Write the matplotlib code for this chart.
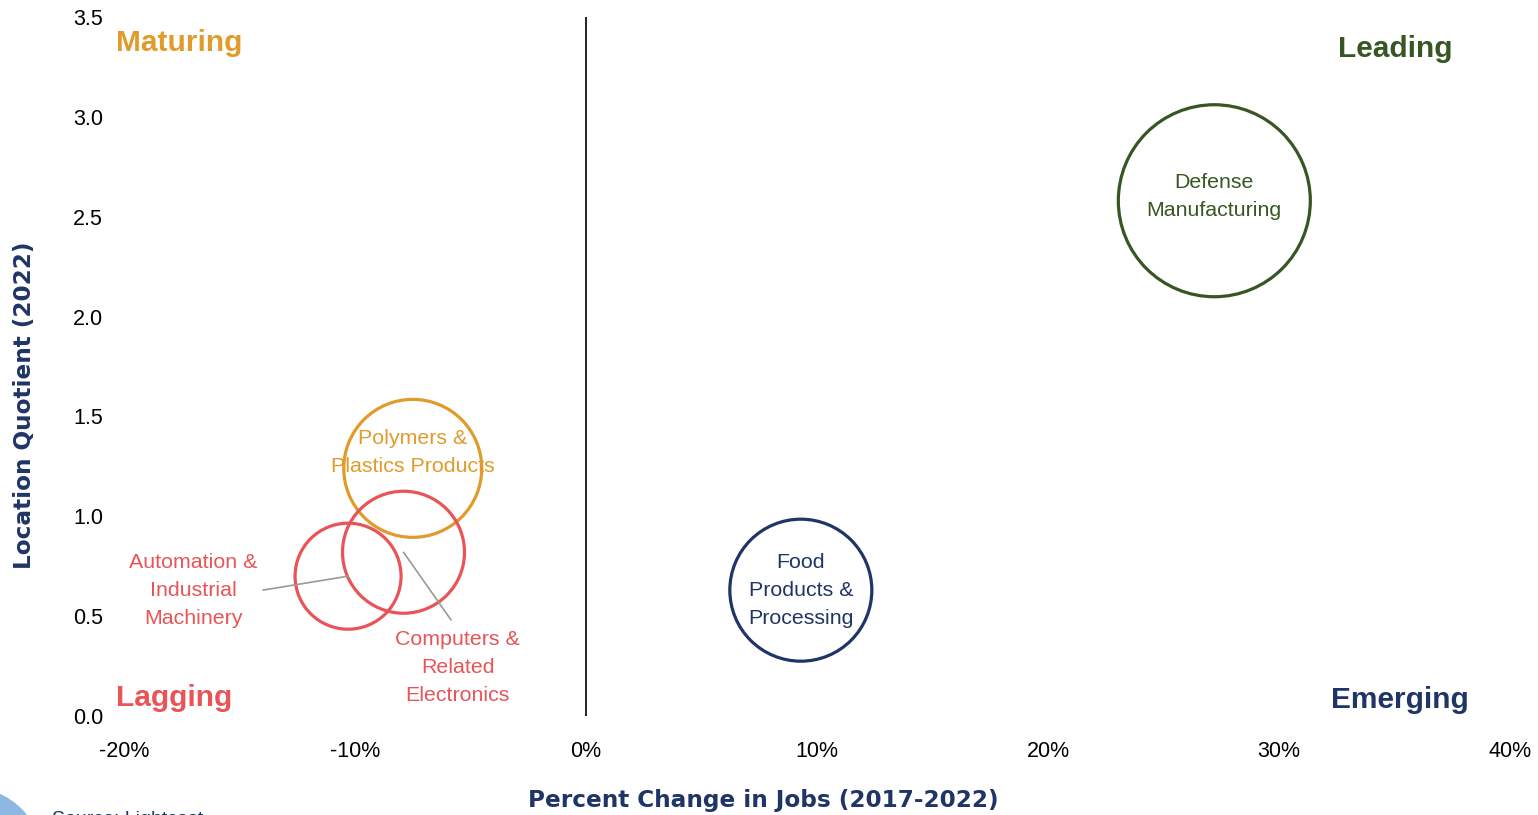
import matplotlib.pyplot as plt
from matplotlib.patches import Circle

# cluster data
clusters = ["Defense\nManufacturing", "Food\nProducts &\nProcessing", "Polymers &\nPlastics Products",
            "Computers &\nRelated\nElectronics", "Automation &\nIndustrial\nMachinery"]
pct_change = [27.2, 9.3, -7.5, -7.9, -10.3]
location_quotient = [2.58, 0.63, 1.24, 0.82, 0.70]
bubble_area = [36864, 20164, 19044, 14884, 11236]  # relative employment (px^2)
colors = ["#375623", "#1F3566", "#E09B2A", "#E85457", "#E85457"]

x_ticks = [-20, -10, 0, 10, 20, 30, 40]
y_ticks = [0.0, 0.5, 1.0, 1.5, 2.0, 2.5, 3.0, 3.5]

plt.rcParams['font.family'] = ['Liberation Sans', 'DejaVu Sans']

fig = plt.figure(figsize=(15.38, 8.15), dpi=100)
ax = fig.add_axes([124 / 1538, 1 - 716 / 815, (1510 - 124) / 1538, (716 - 17) / 815])

ax.scatter(pct_change, location_quotient, s=[a * 0.72 ** 2 for a in bubble_area],
           facecolors="none", edgecolors=colors, linewidths=2.3, zorder=3)

ax.set_xlim(-20, 40)
ax.set_ylim(0, 3.5)
ax.set_xticks(x_ticks)
ax.set_xticklabels([f"{v}%" for v in x_ticks])
ax.set_yticks(y_ticks)
ax.set_yticklabels([f"{v:.1f}" for v in y_ticks])
ax.tick_params(length=0, labelsize=15.5, colors="black")
ax.tick_params(axis="x", pad=18)
ax.tick_params(axis="y", pad=15)
for s in ax.spines.values():
    s.set_visible(False)
ax.axvline(0, color="black", lw=1.2, zorder=1)

lab = dict(fontsize=15.4, ha="center", va="center", linespacing=1.6)

# labels inside bubbles
ax.text(pct_change[0], location_quotient[0] + 0.02, clusters[0], color=colors[0], **lab)
ax.text(pct_change[1], location_quotient[1], clusters[1], color=colors[1], **lab)
ax.text(pct_change[2], location_quotient[2] + 0.08, clusters[2], color=colors[2], zorder=4, **lab)

# callouts
ax.annotate(clusters[3], xy=(pct_change[3], location_quotient[3]), xytext=(-5.55, 0.245),
            color=colors[3], **lab,
            arrowprops=dict(arrowstyle="-", color="#999999", lw=1.2, shrinkA=6, shrinkB=0,
                            relpos=(0.5, 1.0)))
ax.annotate(clusters[4], xy=(pct_change[4], location_quotient[4]), xytext=(-17.0, 0.626),
            color=colors[4], **lab,
            arrowprops=dict(arrowstyle="-", color="#999999", lw=1.2, shrinkA=2, shrinkB=0,
                            relpos=(1.0, 0.5)))

# quadrant labels
quad = dict(fontsize=21.5, fontweight="bold", va="center")
ax.text(-20.35, 3.37, "Maturing", color="#E09B2A", **quad)
ax.text(37.5, 3.34, "Leading", color="#375623", ha="right", **quad)
ax.text(-20.35, 0.09, "Lagging", color="#E85457", **quad)
ax.text(38.2, 0.08, "Emerging", color="#1F3566", ha="right", **quad)

fig.text(763 / 1538, 1 - 800 / 815, "Percent Change in Jobs (2017-2022)", color="#1F3566",
         fontsize=16.7, fontweight="heavy", family=["DejaVu Sans"], ha="center", va="center")
fig.text(25 / 1538, 1 - 405 / 815, "Location Quotient (2022)", color="#1F3566",
         fontsize=16.7, fontweight="heavy", family=["DejaVu Sans"], ha="center", va="center",
         rotation=90)

# decorative corner and clipped source note
fig.patches.append(Circle((-0.30, -0.45), 0.72, transform=fig.dpi_scale_trans, color="#8DB8E2", zorder=0))
fig.text(52 / 1538, 1 - 819 / 815, "Source: Lightcast", color="#1F3566", fontsize=14, va="center")

fig.savefig("out.png", dpi=100)
